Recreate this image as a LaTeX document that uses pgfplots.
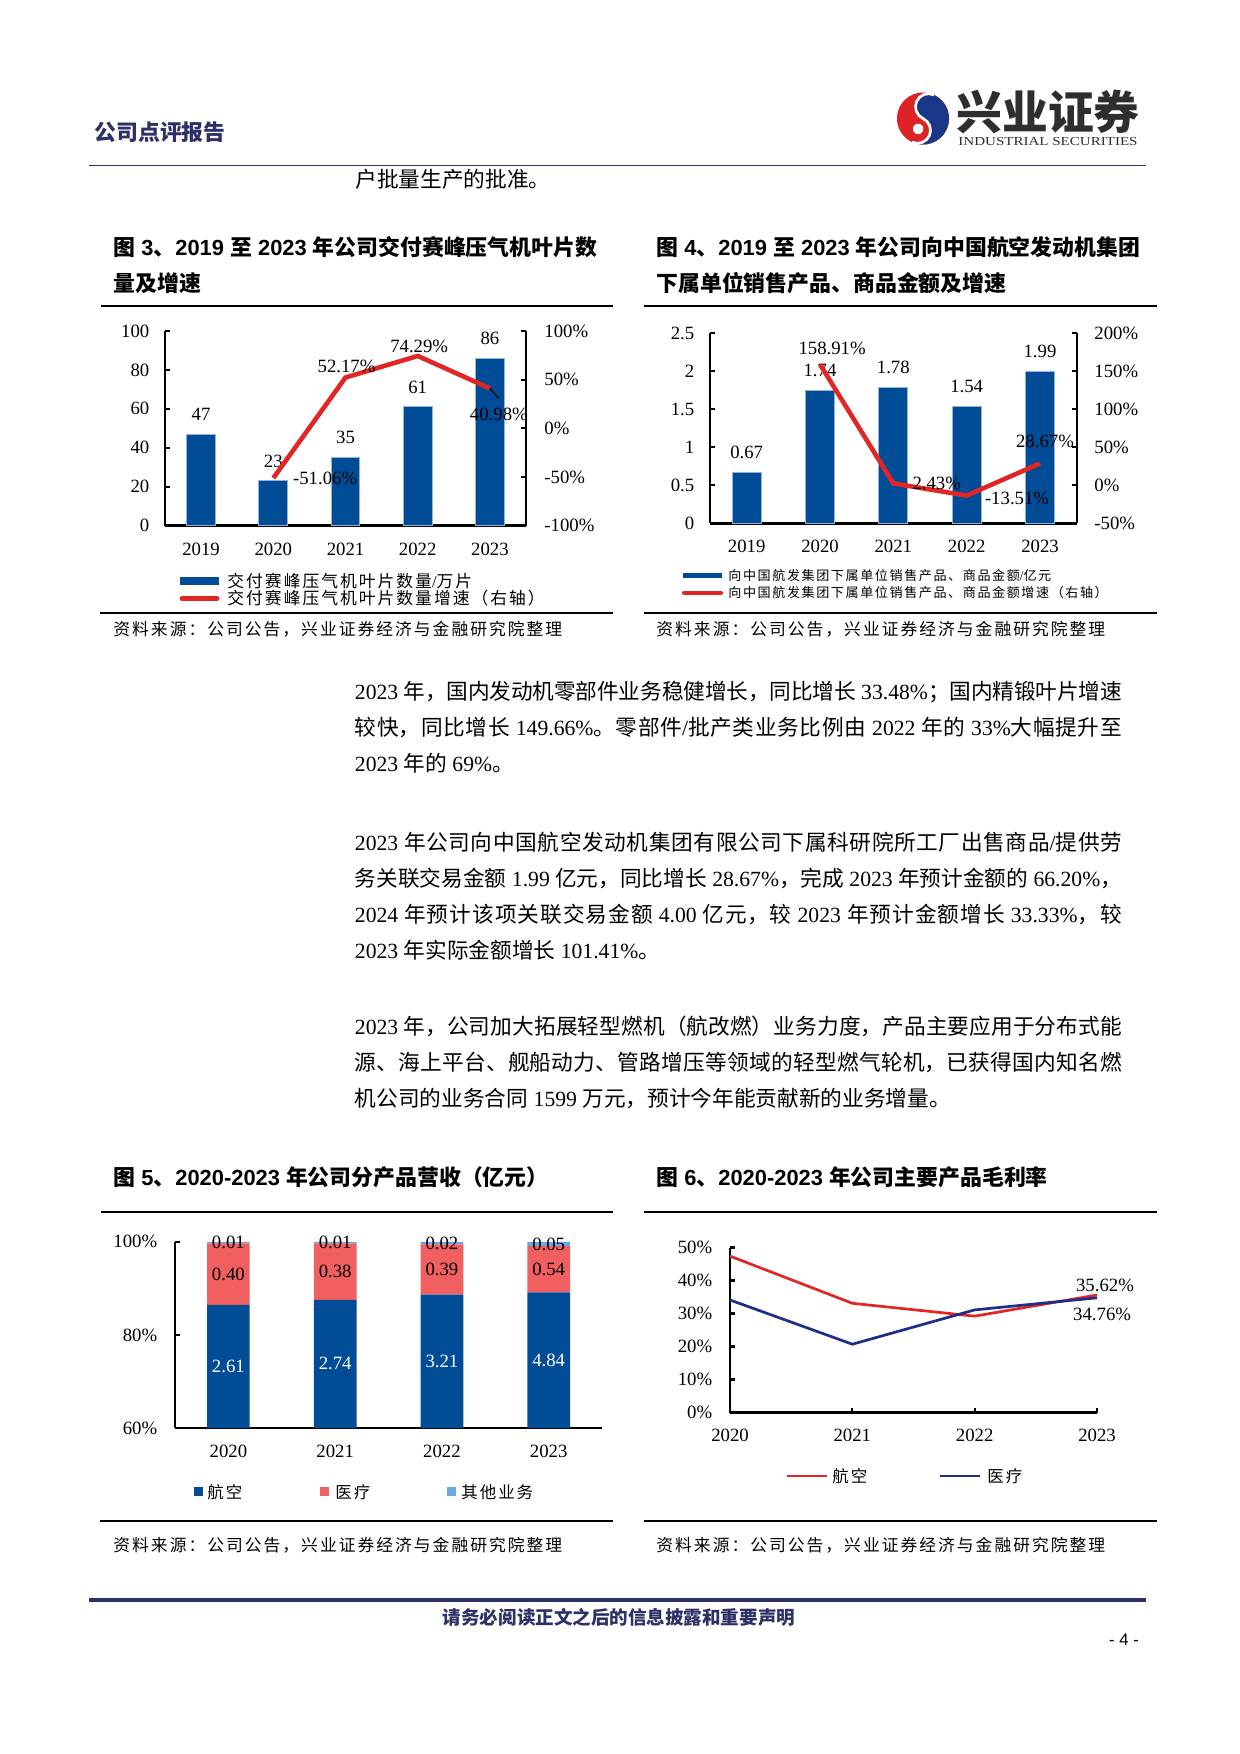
\documentclass[border=0pt]{standalone}
\usepackage{pgfplots}
\pgfplotsset{compat=1.18}
\usepackage{pgfplotstable}
\usepackage{fontspec}
\setmainfont{Liberation Serif}
\setsansfont{Liberation Sans}
\newfontfamily\cjk{Noto Sans CJK SC}
\newfontfamily\cjkls{Noto Sans CJK SC}[LetterSpace=12]
\newcommand\latinfam{\rmfamily}
\XeTeXinterchartokenstate=1
\newXeTeXintercharclass\CJKclass
\makeatletter
\newcommand\setcjkrange[2]{\count@=#1\relax
  \loop\XeTeXcharclass\count@=\CJKclass\relax
  \advance\count@ by 1\relax
  \ifnum\count@<#2\relax\repeat}
\setcjkrange{"3000}{"3040}
\setcjkrange{"4E00}{"A000}
\setcjkrange{"FF00}{"FFF0}
\makeatother
\XeTeXinterchartoks 0 \CJKclass = {\cjk}
\XeTeXinterchartoks 4095 \CJKclass = {\cjk}
\XeTeXinterchartoks \CJKclass 0 = {\latinfam}
\XeTeXinterchartoks \CJKclass 4095 = {\latinfam}
\XeTeXlinebreaklocale "zh"
\XeTeXlinebreakskip=0pt plus 2pt minus 0.4pt

\definecolor{navy}{RGB}{46,49,103}
\definecolor{barblue}{RGB}{0,76,151}
\definecolor{edgeblue}{RGB}{150,180,215}
\definecolor{linered}{RGB}{226,38,38}
\definecolor{medred}{RGB}{240,96,96}
\definecolor{othblue}{RGB}{108,166,224}
\definecolor{medblue}{RGB}{30,45,140}
\definecolor{logored}{RGB}{221,34,40}
\definecolor{logoblue}{RGB}{25,55,135}

\newcommand\fs[2]{\fontsize{#1}{#2}\selectfont}
\newcommand\bodyfont{\fs{10.4}{17.3}\tolerance=9999 }
\newcommand\titlefont{\def\latinfam{\sffamily}\sffamily\bfseries\fs{10.5}{12}}
\newcommand\smallcjk[1]{\let\cjk\cjkls\fs{#1}{10}}

\pgfplotstableread{
x air med oth
0 2.61 0.40 0.01
1 2.74 0.38 0.01
2 3.21 0.39 0.02
3 4.84 0.54 0.05
}\revtable

\pgfplotsset{
  base/.style={scale only axis, anchor=south west, clip=false,
    tick align=inside, major tick length=2.4pt,
    tick style={black, line width=1pt},
    tick label style={font=\fs{9}{10}},
    /pgf/number format/assume math mode=true},
}
\tikzset{lbl/.style={font=\fs{9}{10}, inner sep=0pt}}

\begin{document}
\begin{tikzpicture}[x=0.48pt,y=-0.48pt]
\fill[white] (0,0) rectangle (1240,1754);
\path[use as bounding box] (0,0) rectangle (1240,1754);

% ---------- header ----------
\node[anchor=west,inner sep=0,text=navy,font=\fs{10.5}{12}\bfseries] at (94,132) {公司点评报告};
\begin{scope}[shift={(923,118.5)},rotate=-25]
\fill[logored] (0pt,0pt) circle (12.5pt);
\fill[logoblue] (0pt,12.5pt) arc[start angle=90,end angle=-90,radius=12.5pt]
   arc[start angle=-90,end angle=90,radius=6.25pt]
   arc[start angle=-90,end angle=-270,radius=6.25pt] -- cycle;
\draw[white,line width=1.3pt] (0pt,-12.5pt) arc[start angle=-90,end angle=90,radius=6.25pt]
   arc[start angle=-90,end angle=-270,radius=6.25pt];
\fill[white] (0pt,-5.5pt) circle (2.6pt);
\end{scope}
\node[anchor=west,inner sep=0,font=\fs{22}{24}\bfseries,text=black!82] at (956,112) {兴业证券};
\node[anchor=west,inner sep=0,text=black!82] at (958,141) {\resizebox{86pt}{3.9pt}{\fs{8}{9}INDUSTRIAL SECURITIES}};
\draw[navy,line width=0.8pt] (89,165.5) -- (1146,165.5);
\node[anchor=west,inner sep=0,font=\bodyfont] at (355,179) {户批量生产的批准。};

% ---------- figure titles (top) ----------
\node[anchor=west,inner sep=0,font=\titlefont] at (113,247) {图 3、2019 至 2023 年公司交付赛峰压气机叶片数};
\node[anchor=west,inner sep=0,font=\titlefont] at (113,283) {量及增速};
\node[anchor=west,inner sep=0,font=\titlefont] at (656,247) {图 4、2019 至 2023 年公司向中国航空发动机集团};
\node[anchor=west,inner sep=0,font=\titlefont] at (656,283) {下属单位销售产品、商品金额及增速};
\draw[line width=0.7pt] (101,306) -- (613,306);
\draw[line width=0.7pt] (644,306) -- (1157,306);

% ---------- Fig 3 ----------
\coordinate (A3) at (165,525.7);
\begin{axis}[base, at={(A3)}, width=173.3pt, height=93.5pt,
  xmin=-0.5, xmax=4.5, ymin=0, ymax=100,
  axis x line*=bottom, axis y line*=left,
  x axis line style={-,line width=1.4pt}, y axis line style={-,line width=1pt},
  xtick={0,1,2,3,4}, xticklabels={2019,2020,2021,2022,2023}, xtick style={draw=none},
  xticklabel style={yshift=-2.2pt},
  ytick={0,20,40,60,80,100}, yticklabels={0,20,40,60,80,100},
  yticklabel style={xshift=-4pt},
  ybar, bar width=13.8pt,
  nodes near coords, every node near coord/.append style={font=\fs{9}{10},anchor=center,yshift=9.6pt}]
\addplot[fill=barblue,draw=edgeblue,line width=0.5pt] coordinates {(0,47) (1,23) (2,35) (3,61) (4,86)};
\end{axis}
\begin{axis}[base, at={(A3)}, width=173.3pt, height=93.5pt,
  xmin=-0.5, xmax=4.5, ymin=-100, ymax=100,
  axis x line=none, axis y line*=right,
  y axis line style={-,line width=1pt},
  ytick={-100,-50,0,50,100}, yticklabels={-100\%,-50\%,0\%,50\%,100\%},
  yticklabel style={xshift=5.3pt}]
\addplot[linered,line width=2.2pt] coordinates {(1,-51.06) (2,52.17) (3,74.29) (4,40.98)};
\node[lbl,xshift=0.5pt,yshift=5.3pt] at (axis cs:2,52.17) {52.17\%};
\node[lbl,xshift=0.7pt,yshift=4.6pt] at (axis cs:3,74.29) {74.29\%};
\node[lbl,xshift=4.3pt,yshift=-12.7pt] at (axis cs:4,40.98) {40.98\%};
\node[lbl,anchor=west,xshift=9.3pt] at (axis cs:1,-51.06) {-51.06\%};
\draw[line width=0.6pt] (axis cs:4,40.98) -- ++(4.3pt,-4.8pt);
\end{axis}
\fill[barblue] (180,577) rectangle (219,584.5);
\node[anchor=west,inner sep=0,font=\smallcjk{8.05}] at (227,581) {交付赛峰压气机叶片数量/万片};
\draw[linered,line width=2.4pt,line cap=round] (182,598.5) -- (217,598.5);
\node[anchor=west,inner sep=0,font=\smallcjk{8.05}] at (227,598.5) {交付赛峰压气机叶片数量增速（右轴）};
\draw[line width=0.6pt] (100,613) -- (613,613);
\node[anchor=west,inner sep=0,font=\smallcjk{8.05}] at (113,629) {资料来源：公司公告，兴业证券经济与金融研究院整理};

% ---------- Fig 4 ----------
\coordinate (A4) at (710,523.3);
\begin{axis}[base, at={(A4)}, width=176pt, height=91.3pt,
  xmin=-0.5, xmax=4.5, ymin=0, ymax=2.5,
  axis x line*=bottom, axis y line*=left,
  x axis line style={-,line width=1.4pt}, y axis line style={-,line width=1pt},
  xtick={0,1,2,3,4}, xticklabels={2019,2020,2021,2022,2023}, xtick style={draw=none},
  xticklabel style={yshift=-2.2pt},
  ytick={0,0.5,1,1.5,2,2.5}, yticklabels={0,0.5,1,1.5,2,2.5},
  yticklabel style={xshift=-4pt},
  /pgf/number format/fixed, /pgf/number format/fixed zerofill, /pgf/number format/precision=2,
  ybar, bar width=13.9pt,
  nodes near coords, every node near coord/.append style={font=\fs{9}{10},anchor=center,yshift=9.6pt}]
\addplot[fill=barblue,draw=edgeblue,line width=0.5pt] coordinates {(0,0.67) (1,1.74) (2,1.78) (3,1.54) (4,1.99)};
\end{axis}
\begin{axis}[base, at={(A4)}, width=176pt, height=91.3pt,
  xmin=-0.5, xmax=4.5, ymin=-50, ymax=200,
  axis x line=none, axis y line*=right,
  y axis line style={-,line width=1pt},
  ytick={-50,0,50,100,150,200}, yticklabels={-50\%,0\%,50\%,100\%,150\%,200\%},
  yticklabel style={xshift=5pt}]
\addplot[linered,line width=2.2pt] coordinates {(1,158.91) (2,2.43) (3,-13.51) (4,28.67)};
\node[lbl,xshift=5.8pt,yshift=7.7pt] at (axis cs:1,158.91) {158.91\%};
\node[lbl,anchor=west,xshift=9pt] at (axis cs:2,2.43) {2.43\%};
\node[lbl,anchor=west,xshift=8.6pt,yshift=-1.4pt] at (axis cs:3,-13.51) {-13.51\%};
\node[lbl,xshift=2.4pt,yshift=10.6pt] at (axis cs:4,28.67) {28.67\%};
\end{axis}
\fill[barblue] (683,572.7) rectangle (722,578.3);
\node[anchor=west,inner sep=0,font=\smallcjk{6.28}] at (728,575.5) {向中国航发集团下属单位销售产品、商品金额/亿元};
\draw[linered,line width=2pt,line cap=round] (684,592.7) -- (721,592.7);
\node[anchor=west,inner sep=0,font=\smallcjk{6.28}] at (728,592.7) {向中国航发集团下属单位销售产品、商品金额增速（右轴）};
\draw[line width=0.6pt] (644,613) -- (1157,613);
\node[anchor=west,inner sep=0,font=\smallcjk{8.05}] at (656,629) {资料来源：公司公告，兴业证券经济与金融研究院整理};

% ---------- body text ----------
\node[anchor=base west,inner sep=0,text width=368.2pt,align=justify,font=\bodyfont] at (354.5,699) {2023 年，国内发动机零部件业务稳健增长，同比增长 33.48\%；国内精锻叶片增速\linebreak 较快，同比增长 149.66\%。零部件/批产类业务比例由 2022 年的 33\%大幅提升至\linebreak 2023 年的 69\%。};
\node[anchor=base west,inner sep=0,text width=368.2pt,align=justify,font=\bodyfont] at (354.5,850) {2023 年公司向中国航空发动机集团有限公司下属科研院所工厂出售商品/提供劳\linebreak 务关联交易金额 1.99 亿元，同比增长 28.67\%，完成 2023 年预计金额的 66.20\%，\linebreak 2024 年预计该项关联交易金额 4.00 亿元，较 2023 年预计金额增长 33.33\%，较\linebreak 2023 年实际金额增长 101.41\%。};
\node[anchor=base west,inner sep=0,text width=368.2pt,align=justify,font=\bodyfont] at (354.5,1034.6) {2023 年，公司加大拓展轻型燃机（航改燃）业务力度，产品主要应用于分布式能\linebreak 源、海上平台、舰船动力、管路增压等领域的轻型燃气轮机，已获得国内知名燃\linebreak 机公司的业务合同 1599 万元，预计今年能贡献新的业务增量。};

% ---------- figure titles (bottom) ----------
\node[anchor=west,inner sep=0,font=\titlefont] at (113,1177) {图 5、2020-2023 年公司分产品营收（亿元）};
\node[anchor=west,inner sep=0,font=\titlefont] at (656,1177) {图 6、2020-2023 年公司主要产品毛利率};
\draw[line width=0.7pt] (101,1212) -- (613,1212);
\draw[line width=0.7pt] (644,1212) -- (1157,1212);

% ---------- Fig 5 ----------
\coordinate (A5) at (175,1428);
\begin{axis}[base, clip=true, at={(A5)}, width=205pt, height=89.4pt,
  xmin=-0.5, xmax=3.5, ymin=60, ymax=100,
  axis x line*=bottom, axis y line*=left,
  x axis line style={-,line width=1.4pt}, y axis line style={-,line width=1pt},
  xtick={0,1,2,3}, xticklabels={2020,2021,2022,2023}, xtick style={draw=none},
  xticklabel style={yshift=-4.4pt},
  ytick={60,80,100}, yticklabels={60\%,80\%,100\%},
  yticklabel style={xshift=-5pt},
  ybar stacked, bar width=20.5pt]
\addplot[fill=barblue,draw=none] table[x=x,y expr={100*\thisrow{air}/(\thisrow{air}+\thisrow{med}+\thisrow{oth})}] {\revtable};
\addplot[fill=medred,draw=none] table[x=x,y expr={100*\thisrow{med}/(\thisrow{air}+\thisrow{med}+\thisrow{oth})}] {\revtable};
\addplot[fill=othblue,draw=none] table[x=x,y expr={100*\thisrow{oth}/(\thisrow{air}+\thisrow{med}+\thisrow{oth})}] {\revtable};
\end{axis}
\begin{axis}[base, at={(A5)}, width=205pt, height=89.4pt,
  xmin=-0.5, xmax=3.5, ymin=60, ymax=100, axis lines=none]
\node[lbl,text=white] at (axis cs:0,73.2) {2.61};
\node[lbl,text=white] at (axis cs:1,73.77) {2.74};
\node[lbl,text=white] at (axis cs:2,74.34) {3.21};
\node[lbl,text=white] at (axis cs:3,74.57) {4.84};
\node[lbl] at (axis cs:0,93.05) {0.40};
\node[lbl] at (axis cs:1,93.61) {0.38};
\node[lbl] at (axis cs:2,94.06) {0.39};
\node[lbl] at (axis cs:3,94.11) {0.54};
\node[lbl] at (axis cs:0,99.83) {0.01};
\node[lbl] at (axis cs:1,99.84) {0.01};
\node[lbl] at (axis cs:2,99.72) {0.02};
\node[lbl] at (axis cs:3,99.54) {0.05};
\end{axis}
\fill[barblue] (194,1487) rectangle (203,1496);
\node[anchor=west,inner sep=0,font=\smallcjk{7.9}] at (207,1492) {航空};
\fill[medred] (320,1487) rectangle (329,1496);
\node[anchor=west,inner sep=0,font=\smallcjk{7.9}] at (335,1492) {医疗};
\fill[othblue] (447,1487) rectangle (456,1496);
\node[anchor=west,inner sep=0,font=\smallcjk{7.9}] at (461,1492) {其他业务};
\draw[line width=0.6pt] (100,1521) -- (613,1521);
\node[anchor=west,inner sep=0,font=\smallcjk{8.05}] at (113,1545) {资料来源：公司公告，兴业证券经济与金融研究院整理};

% ---------- Fig 6 ----------
\coordinate (A6) at (730,1412.5);
\begin{axis}[base, at={(A6)}, width=176.2pt, height=79.2pt,
  xmin=0, xmax=3, ymin=0, ymax=50,
  axis x line*=bottom, axis y line*=left,
  x axis line style={-,line width=1.3pt}, y axis line style={-,line width=1pt},
  major tick length=2.2pt,
  xtick={0,1,2,3}, xticklabels={2020,2021,2022,2023},
  xticklabel style={yshift=-4.5pt},
  ytick={0,10,20,30,40,50}, yticklabels={0\%,10\%,20\%,30\%,40\%,50\%},
  yticklabel style={xshift=-5pt}]
\addplot[linered,line width=1.3pt] coordinates {(0,47.4) (1,33.1) (2,29.2) (3,35.62)};
\addplot[medblue,line width=1.3pt] coordinates {(0,34.1) (1,20.7) (2,31.1) (3,34.76)};
\node[lbl,xshift=3.8pt,yshift=4.8pt] at (axis cs:3,35.62) {35.62\%};
\node[lbl,xshift=2.4pt,yshift=-8.2pt] at (axis cs:3,34.76) {34.76\%};
\end{axis}
\draw[linered,line width=1.3pt] (787,1476) -- (827,1476);
\node[anchor=west,inner sep=0,font=\smallcjk{7.9}] at (832,1476) {航空};
\draw[medblue,line width=1.3pt] (940,1476) -- (980,1476);
\node[anchor=west,inner sep=0,font=\smallcjk{7.9}] at (987,1476) {医疗};
\draw[line width=0.6pt] (644,1521) -- (1157,1521);
\node[anchor=west,inner sep=0,font=\smallcjk{8.05}] at (656,1545) {资料来源：公司公告，兴业证券经济与金融研究院整理};

% ---------- footer ----------
\draw[navy,line width=1.7pt] (89,1600) -- (1146,1600);
\node[inner sep=0,font=\fs{8.9}{10}\bfseries,text=navy] at (619,1617) {请务必阅读正文之后的信息披露和重要声明};
\node[inner sep=0,font=\sffamily\fs{8}{9}] at (1124,1640) {- 4 -};
\end{tikzpicture}
\end{document}
